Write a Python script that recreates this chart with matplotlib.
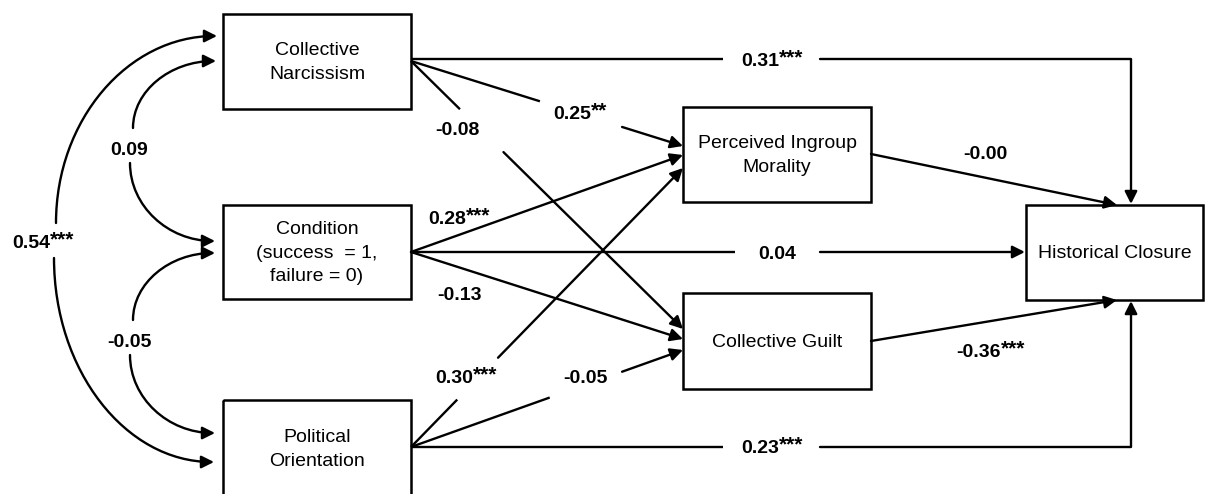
import matplotlib
matplotlib.use('Agg')
import matplotlib.pyplot as plt
from matplotlib.patches import Rectangle, FancyArrowPatch
from matplotlib.path import Path

plt.rcParams['font.family'] = ['Liberation Sans', 'DejaVu Sans']

# 变量名称
nodes = ['Collective\nNarcissism', 'Condition\n(success  = 1,\nfailure = 0)',
         'Political\nOrientation', 'Perceived Ingroup\nMorality',
         'Collective Guilt', 'Historical Closure']

# 路径系数 (CN, Condition, PO)
to_closure = ['0.31***', '0.04', '0.23***']
to_morality = ['0.25**', '0.28***', '0.30***']
to_guilt = ['-0.08', '-0.13', '-0.05']
mediator_to_closure = ['-0.00', '-0.36***']
# 相关: CN-Condition, Condition-PO, CN-PO
covariances = ['0.09', '-0.05', '0.54***']

# 版面 (像素坐标)
boxes = [(223, 14, 411, 109), (223, 205, 411, 299), (223, 400, 411, 497),
         (683, 107, 871, 202), (683, 293, 871, 389), (1026, 205, 1203, 300)]

fig = plt.figure(figsize=(12.06, 4.94), dpi=100)
ax = fig.add_axes([0, 0, 1, 1])
ax.set_xlim(0, 1206)
ax.set_ylim(494, 0)
ax.axis('off')

LW = 1.7
ASTYLE = '-|>,head_length=0.5,head_width=0.25'


def arrow(pts, curve=False):
    if curve:
        codes = [Path.MOVETO, Path.CURVE4, Path.CURVE4, Path.CURVE4]
    else:
        codes = [Path.MOVETO] + [Path.LINETO] * (len(pts) - 1)
    ax.add_patch(FancyArrowPatch(path=Path(pts, codes), arrowstyle=ASTYLE,
                                 mutation_scale=15, lw=LW, color='black',
                                 shrinkA=0, shrinkB=0, zorder=3))


def line(pts):
    xs, ys = zip(*pts)
    ax.plot(xs, ys, color='black', lw=LW, solid_capstyle='butt', zorder=3)


def straight(p0, p1, gap=None):
    if gap is None:
        arrow([p0, p1])
        return
    t0, t1 = gap
    a = (p0[0] + t0 * (p1[0] - p0[0]), p0[1] + t0 * (p1[1] - p0[1]))
    b = (p0[0] + t1 * (p1[0] - p0[0]), p0[1] + t1 * (p1[1] - p0[1]))
    line([p0, a])
    arrow([b, p1])


def ellipse_arc(p0, p1):
    k = 0.5523
    (x0, y0), (x1, y1) = p0, p1
    c1 = (x0, y0 + k * (y1 - y0))
    c2 = (x1 - k * (x1 - x0), y1)
    arrow([p0, c1, c2, p1], curve=True)


# 方框
for (x0, y0, x1, y1), name in zip(boxes, nodes):
    ax.add_patch(Rectangle((x0, y0), x1 - x0, y1 - y0, fill=False,
                           lw=1.8, edgecolor='black', zorder=2))
    ax.text((x0 + x1) / 2, (y0 + y1) / 2 + 1, name, ha='center', va='center',
            fontsize=14, linespacing=1.5, multialignment='center')

# 直接效应 -> Historical Closure
line([(411, 59), (723, 59)])
arrow([(820, 59), (1131, 59), (1131, 204)])
line([(411, 252), (735, 252)])
arrow([(820, 252), (1025, 252)])
line([(411, 447), (723, 447)])
arrow([(820, 447), (1131, 447), (1131, 301)])

# -> Perceived Ingroup Morality
straight((411, 61), (683, 146), gap=(0.474, 0.776))
straight((411, 252), (683, 155))
straight((411, 447), (683, 168), gap=(0.17, 0.32))

# -> Collective Guilt
straight((411, 61), (683, 329), gap=(0.18, 0.34))
straight((411, 252), (683, 339))
straight((411, 447), (683, 350), gap=(0.51, 0.776))

# 中介 -> Historical Closure
straight((871, 154), (1117, 205))
straight((871, 341), (1117, 300))

# 相关弧线
ellipse_arc((133, 128), (216, 61))
ellipse_arc((130, 163), (215, 241))
ellipse_arc((133, 320), (215, 253))
ellipse_arc((130, 355), (215, 433))
ellipse_arc((56, 223), (217, 36))
ellipse_arc((54, 258), (214, 462))

# 系数标签 (左边 x, 中心 y)
labels = [
    (to_closure[0], 741, 59), (to_closure[1], 758, 252), (to_closure[2], 741, 446),
    (to_morality[0], 553, 112), (to_morality[1], 428, 217), (to_morality[2], 435, 376),
    (to_guilt[0], 435, 128), (to_guilt[1], 437, 293), (to_guilt[2], 563, 376),
    (mediator_to_closure[0], 963, 152), (mediator_to_closure[1], 956, 350),
    (covariances[0], 110, 148), (covariances[1], 107, 340), (covariances[2], 12, 241),
]

fig.canvas.draw()
renderer = fig.canvas.get_renderer()
inv = ax.transData.inverted()
for txt, x, y in labels:
    num = txt.rstrip('*')
    stars = txt[len(num):]
    t = ax.text(x, y + 7, num, ha='left', va='baseline', fontsize=14,
                fontweight='bold')
    if stars:
        bb = t.get_window_extent(renderer)
        xr = inv.transform((bb.x1, 0))[0]
        ax.text(xr, y + 4, stars, ha='left', va='baseline', fontsize=15,
                fontweight='bold')

fig.savefig('out.png', dpi=100)
